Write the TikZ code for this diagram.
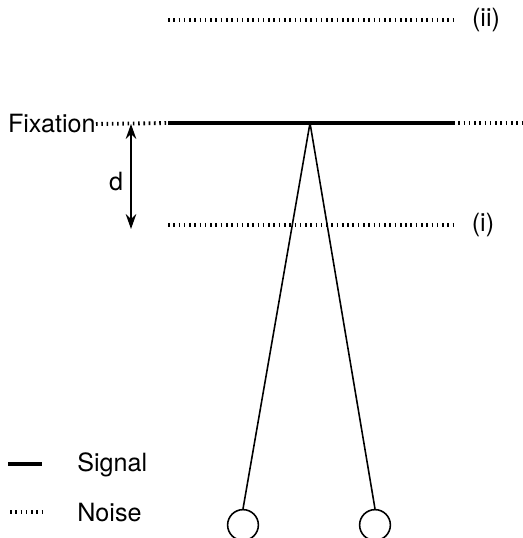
\documentclass[tikz,border=0pt]{standalone}
\usepackage{fontspec}
\setmainfont{TeX Gyre Heros}
\usepackage{tikz}
\usetikzlibrary{arrows.meta,arrows}

\begin{document}
\begin{tikzpicture}[x=0.02cm,y=-0.02cm,>={Stealth[length=8.5pt,width=6pt]},
noise/.style={line width=2.2pt,dash pattern=on 0.9pt off 2.1pt},
signal/.style={line width=2.8pt},
lbl/.style={font=\fontsize{14.3}{16}\selectfont,inner sep=0pt}]
\useasboundingbox (0,0) rectangle (523,538);
% noise planes
\coordinate (ii0) at (168,20);
\coordinate (ii1) at (455,20);
\draw[noise](ii0)--(ii1);
\node[lbl] (ii) at (486,20){(ii)};
\coordinate (i0) at (168,225);
\coordinate (i1) at (455,225);
\draw[noise](i0)--(i1);
\node[lbl] (i) at (483,225){(i)};
% fixation plane
\node[lbl,anchor=east] (fix) at (96,124){Fixation};
\coordinate (s0) at (168,123);
\coordinate (s1) at (453,123);
\coordinate (e1) at (523,123);
\draw[noise](fix.east)--(s0);
\draw[signal](s0)--(s1);
\draw[noise](s1)--(e1);
% distance d
\coordinate (d0) at (131,124);
\coordinate (d1) at (131,229);
\draw[<->,line width=1pt](d0)--(d1);
\node[lbl] (d) at (116,182){d};
% eyes
\coordinate (fp) at (310,123);
\node[circle,draw,line width=0.9pt,minimum size=17.5pt,inner sep=0pt] (le) at (243,525){};
\node[circle,draw,line width=0.9pt,minimum size=17.5pt,inner sep=0pt] (re) at (375,525){};
\draw[line width=0.9pt](fp)--(le.north);
\draw[line width=0.9pt](fp)--(re.north);
% legend
\coordinate (ls0) at (8,464);
\coordinate (ls1) at (42,464);
\draw[signal](ls0)--(ls1);
\node[lbl,anchor=west] (sig) at (77,465){Signal};
\coordinate (ln0) at (10,512);
\coordinate (ln1) at (43,512);
\draw[noise](ln0)--(ln1);
\node[lbl,anchor=west] (noi) at (77,513){Noise};
\end{tikzpicture}
\end{document}
